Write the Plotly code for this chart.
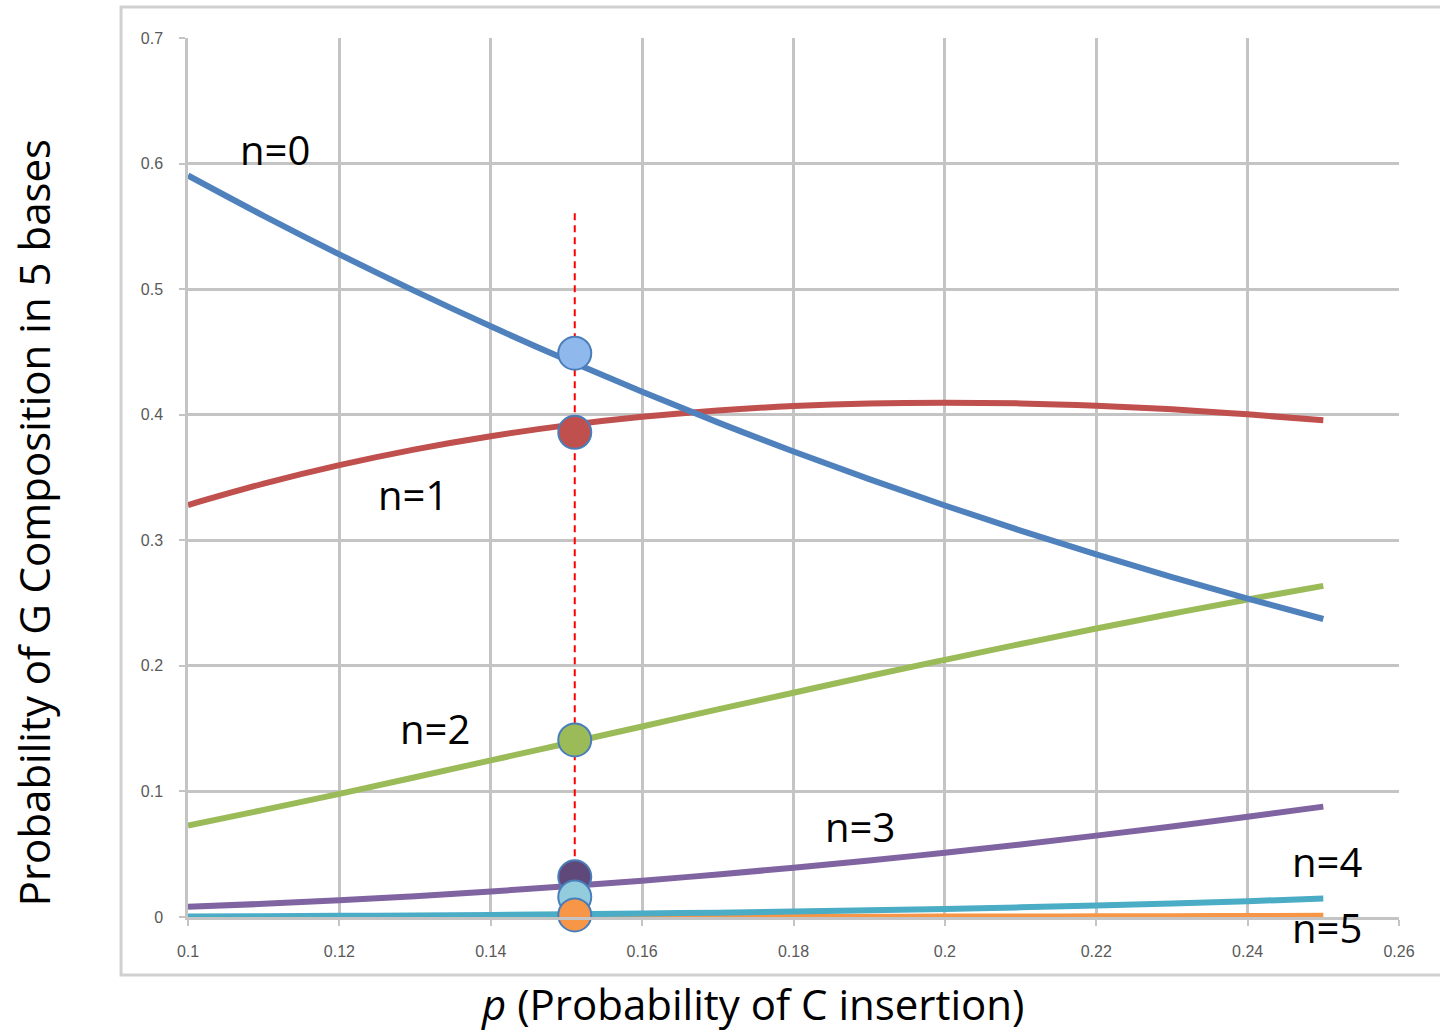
import plotly.graph_objects as go

# p values (probability of C insertion)
p_vals = [0.10, 0.11, 0.12, 0.13, 0.14, 0.15, 0.16, 0.17,
          0.18, 0.19, 0.20, 0.21, 0.22, 0.23, 0.24, 0.25]

# probability of n G's in 5 bases
n0 = [0.5905, 0.5584, 0.5277, 0.4984, 0.4704, 0.4437, 0.4182, 0.3939,
      0.3707, 0.3487, 0.3277, 0.3077, 0.2887, 0.2707, 0.2536, 0.2373]
n1 = [0.3281, 0.3451, 0.3598, 0.3724, 0.3829, 0.3915, 0.3983, 0.4034,
      0.4069, 0.4090, 0.4096, 0.4090, 0.4072, 0.4043, 0.4003, 0.3955]
n2 = [0.0729, 0.0853, 0.0981, 0.1113, 0.1247, 0.1382, 0.1517, 0.1653,
      0.1786, 0.1919, 0.2048, 0.2174, 0.2297, 0.2415, 0.2529, 0.2637]
n3 = [0.0081, 0.0105, 0.0134, 0.0166, 0.0203, 0.0244, 0.0289, 0.0339,
      0.0392, 0.0450, 0.0512, 0.0578, 0.0648, 0.0721, 0.0799, 0.0879]
n4 = [0.00045, 0.00065, 0.00091, 0.00124, 0.00165, 0.00215, 0.00275, 0.00347,
      0.00430, 0.00528, 0.00640, 0.00768, 0.00914, 0.01077, 0.01261, 0.01465]
n5 = [0.00001, 0.00002, 0.00002, 0.00004, 0.00005, 0.00008, 0.00011, 0.00014,
      0.00019, 0.00025, 0.00032, 0.00041, 0.00052, 0.00064, 0.00080, 0.00098]

series = [n0, n1, n2, n3, n4, n5]
line_colors = ["#4f81bd", "#c0504d", "#9bbb59", "#8064a2", "#4bacc6", "#f79646"]

# highlighted point at the chosen p
p_mark = 0.1511
mark_vals = [0.449, 0.386, 0.141, 0.032, 0.016, 0.0016]
mark_colors = ["#8fb9ec", "#c0504d", "#9bbb59", "#5f497a", "#93cddd", "#f79646"]
guide_top = 0.5605
guide_bottom = 0.03

# series label positions (x in data units, y in paper units)
label_text = ["n=0", "n=1", "n=2", "n=3", "n=4", "n=5"]
label_x = [0.1115, 0.1297, 0.1326, 0.1888, 0.2505, 0.2505]
label_y = [0.8726, 0.4812, 0.2150, 0.1024, 0.0626, -0.0125]

x_ticks = [0.10, 0.12, 0.14, 0.16, 0.18, 0.20, 0.22, 0.24, 0.26]
x_ticklabels = ["0.1", "0.12", "0.14", "0.16", "0.18", "0.2", "0.22", "0.24", "0.26"]
y_ticks = [0, 0.1, 0.2, 0.3, 0.4, 0.5, 0.6, 0.7]
y_ticklabels = ["0", "0.1", "0.2", "0.3", "0.4", "0.5", "0.6", "0.7"]

fig = go.Figure()

for vals, col in zip(series[::-1], line_colors[::-1]):
    fig.add_trace(go.Scatter(
        x=p_vals, y=vals, mode="lines",
        line=dict(color=col, width=6, shape="spline"),
        hoverinfo="skip", showlegend=False, cliponaxis=False,
    ))

# dashed guide line at the chosen p, drawn beneath the markers
fig.add_trace(go.Scatter(
    x=[p_mark, p_mark], y=[guide_top, guide_bottom], mode="lines",
    line=dict(color="#ff0000", width=2, dash="7px,5px"),
    hoverinfo="skip", showlegend=False,
))

for v, c in zip(mark_vals, mark_colors):
    fig.add_trace(go.Scatter(
        x=[p_mark], y=[v], mode="markers",
        marker=dict(size=33, color=c, line=dict(color="#4a7ebb", width=2)),
        hoverinfo="skip", showlegend=False, cliponaxis=False,
    ))

for t, x, y in zip(label_text, label_x, label_y):
    fig.add_annotation(x=x, y=y, xref="x", yref="paper", text=t, showarrow=False,
                       xanchor="center", yanchor="middle",
                       font=dict(size=40, color="#000000", family="Open Sans"))

# axis titles
fig.add_annotation(x=0.4666, y=-0.0985, xref="paper", yref="paper",
                   xanchor="center", yanchor="middle",
                   text="<i>p</i> (Probability of C insertion)", showarrow=False,
                   font=dict(size=42, color="#000000", family="Open Sans"))
fig.add_annotation(x=-0.128, y=0.449, xref="paper", yref="paper", textangle=-90,
                   xanchor="center", yanchor="middle",
                   text="Probability of G Composition in 5 bases", showarrow=False,
                   font=dict(size=42, color="#000000", family="Open Sans"))

# outer chart frame
fig.add_shape(type="rect", xref="paper", yref="paper",
              x0=-0.0553, x1=1.05, y0=-0.066, y1=1.0353,
              line=dict(color="#d0d0d0", width=3), layer="below")

axis_common = dict(
    showgrid=True, gridcolor="#c4c4c4", gridwidth=2.5,
    showline=True, linecolor="#c4c4c4", linewidth=2.5,
    ticks="outside", ticklen=6, tickwidth=2, tickcolor="#c4c4c4",
    tickfont=dict(size=16, color="#595959", family="Liberation Sans"),
    zeroline=False, mirror=False,
)

fig.update_xaxes(range=[0.1, 0.26], tickvals=x_ticks, ticktext=x_ticklabels,
                 ticklabelstandoff=12, **axis_common)
fig.update_yaxes(range=[0, 0.7], tickvals=y_ticks, ticktext=y_ticklabels,
                 ticklabelstandoff=13, **axis_common)

fig.update_layout(
    width=1440, height=1032,
    margin=dict(l=188, r=41, t=38, b=115),
    plot_bgcolor="#ffffff", paper_bgcolor="#ffffff",
)

fig.write_html("out.html")
